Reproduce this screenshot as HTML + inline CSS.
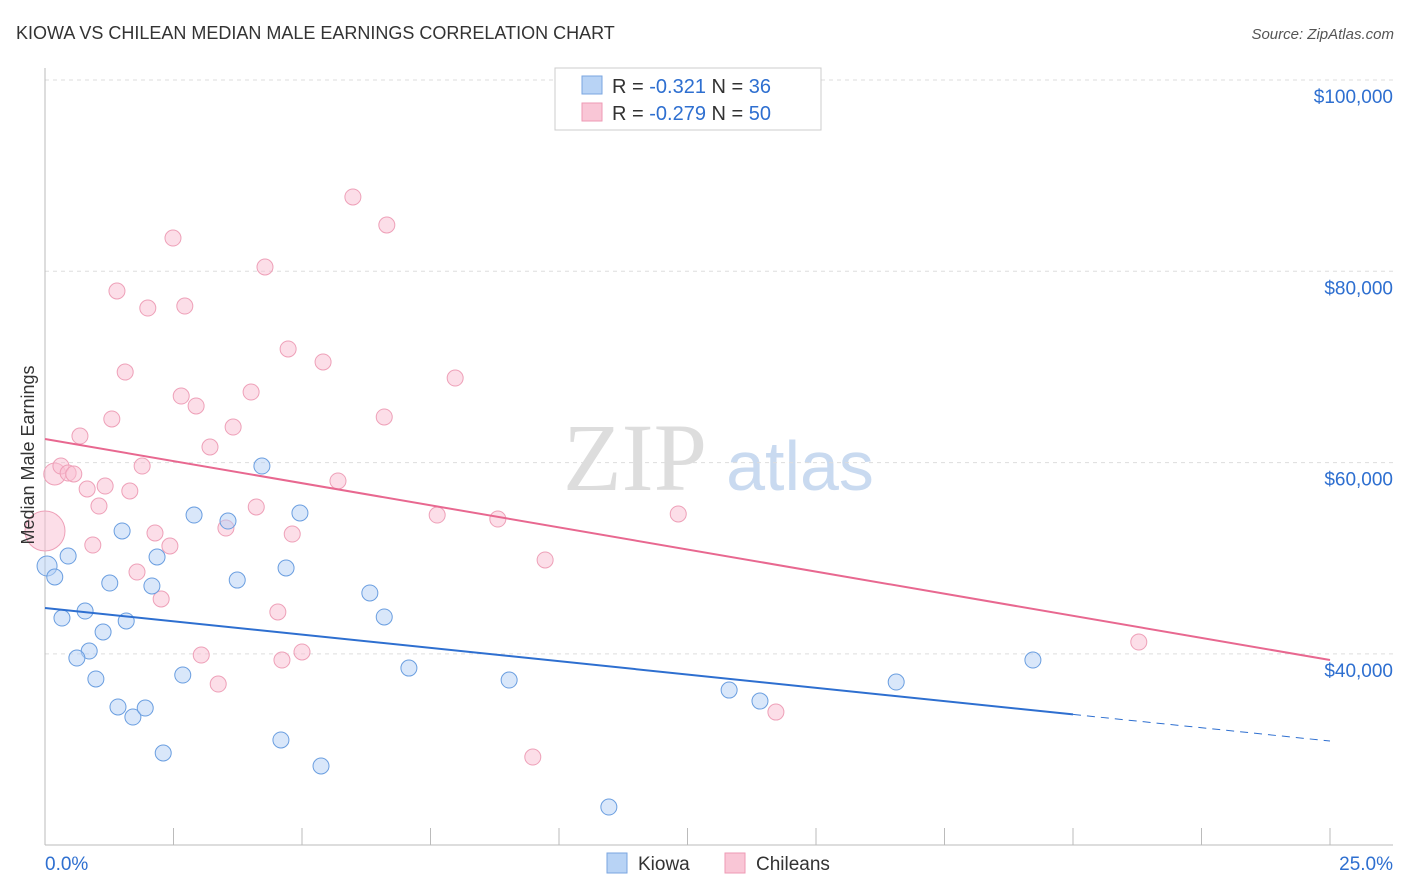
<!DOCTYPE html>
<html><head><meta charset="utf-8"><style>
body{margin:0;background:#fff;font-family:"Liberation Sans",sans-serif;}
svg{display:block}
</style></head><body>
<svg id="chart" width="1406" height="892" xmlns="http://www.w3.org/2000/svg">
<text x="16" y="39" font-size="18" fill="#333">KIOWA VS CHILEAN MEDIAN MALE EARNINGS CORRELATION CHART</text>
<text x="1394" y="39" font-size="15" fill="#555" font-style="italic" text-anchor="end">Source: ZipAtlas.com</text>
<g>
<text x="635" y="490" font-size="96" fill="#ddd" font-family="Liberation Serif,serif" text-anchor="middle">ZIP</text>
<text x="800" y="490" font-size="70" fill="#c9daf0" text-anchor="middle">atlas</text>
</g>
<g id="grid"></g><g id="axes"></g><g id="marks"></g>
<g>
<rect x="555" y="68" width="266" height="62" fill="#fff" stroke="#ccc"/>
<rect x="582" y="76" width="20" height="18" fill="#b8d3f5" stroke="#7aa6e0"/>
<rect x="582" y="103" width="20" height="18" fill="#f9c6d6" stroke="#ee9ab4"/>
<text x="612" y="93" font-size="20" fill="#333">R = <tspan fill="#2e6fd0">-0.321</tspan>   N = <tspan fill="#2e6fd0">36</tspan></text>
<text x="612" y="120" font-size="20" fill="#333">R = <tspan fill="#2e6fd0">-0.279</tspan>   N = <tspan fill="#2e6fd0">50</tspan></text>
</g>
<g>
<rect x="607" y="853" width="20" height="20" fill="#b8d3f5" stroke="#7aa6e0"/>
<text x="638" y="870" font-size="19" fill="#333">Kiowa</text>
<rect x="725" y="853" width="20" height="20" fill="#f9c6d6" stroke="#ee9ab4"/>
<text x="756" y="870" font-size="19" fill="#333">Chileans</text>
</g>
<text transform="translate(34,455) rotate(-90)" font-size="18" fill="#333" text-anchor="middle">Median Male Earnings</text>
</svg>
<script>
const yTicks=[40000,60000,80000,100000];
const yTickLabels=["$40,000","$60,000","$80,000","$100,000"];
const xTicks=[0,2.5,5,7.5,10,12.5,15,17.5,20,22.5,25];
const kiowaX=[0.04,0.19,0.45,0.33,0.78,0.86,0.62,1.13,0.99,1.26,1.50,1.58,1.42,1.71,1.95,2.08,2.18,2.30,2.68,2.90,3.56,3.74,4.22,4.69,4.59,4.96,5.37,6.32,6.60,7.08,9.03,10.97,13.31,13.91,16.56,19.22];
const kiowaY=[49190,48040,50230,43750,44480,40300,39570,42290,37380,47410,52850,43440,34450,33400,34340,47100,50130,29640,37790,54520,53890,47720,59640,48980,31000,54730,28280,46370,43860,38520,37270,23990,36220,35070,37060,39360];
const chileX=[0.0,0.19,0.31,0.45,0.56,0.68,0.82,0.93,1.05,1.17,1.30,1.40,1.56,1.65,1.79,1.89,2.00,2.14,2.26,2.43,2.49,2.65,2.72,2.94,3.04,3.21,3.37,3.52,3.66,4.01,4.11,4.28,4.53,4.61,4.73,4.81,5.00,5.41,5.70,5.99,6.60,6.65,7.63,7.98,8.81,9.49,9.73,12.32,14.22,21.28];
const chileY=[52850,58810,59640,58910,58810,62780,57240,51380,55460,57550,64560,77940,69470,57030,48560,59640,76160,52640,45740,51280,83480,66960,76370,65920,39880,61630,36850,53160,63720,67380,55360,80450,44380,39360,71880,52530,40200,70520,58080,87770,64770,84840,54520,68840,54100,29220,49820,54630,33920,41240];
const chileR=[20,11];
const kiowaTrend=[44800,30890];
const chileTrend=[62470,39360];
const NS="http://www.w3.org/2000/svg";
const X=v=>45+(v/25)*1285;
const Y=v=>80+(100000-v)/20000*191.3;
function mk(tag,attrs,parent){const e=document.createElementNS(NS,tag);for(const k in attrs)e.setAttribute(k,attrs[k]);parent.appendChild(e);return e;}
const grid=document.getElementById('grid'),axes=document.getElementById('axes'),marks=document.getElementById('marks');
yTicks.concat([]).forEach((t,i)=>{
 const l=mk('line',{x1:45,x2:1393,y1:Y(t),y2:Y(t),stroke:'#ddd','stroke-dasharray':'4,4'},grid);
 
 
 const tx=mk('text',{x:1393,y:Y(t)+23,'font-size':19,fill:'#2e6fd0','text-anchor':'end'},axes);
 tx.textContent=yTickLabels[i];
 
 
});
const tl=mk('line',{x1:45,x2:1393,y1:80,y2:80,stroke:'#ddd','stroke-dasharray':'4,4'},grid);


const xa=mk('line',{x1:45,x2:1393,y1:845,y2:845,stroke:'#bbb'},axes);


const ya=mk('line',{x1:45,x2:45,y1:68,y2:845,stroke:'#bbb'},axes);


xTicks.forEach(t=>{
 const l=mk('line',{x1:X(t),x2:X(t),y1:828,y2:845,stroke:'#bbb'},axes);
 
 
});
const x0=mk('text',{x:45,y:870,'font-size':19,fill:'#2e6fd0'},axes);x0.textContent='0.0%';


const x1=mk('text',{x:1393,y:870,'font-size':19,fill:'#2e6fd0','text-anchor':'end'},axes);x1.textContent='25.0%';


chileX.forEach((v,i)=>{
 const c=mk('circle',{cx:X(v),cy:Y(chileY[i]),r:chileR[i]||8,fill:'rgba(249,190,210,0.5)',stroke:'#eea0b8','stroke-width':1},marks);
 
 
});
kiowaX.forEach((v,i)=>{
 const c=mk('circle',{cx:X(v),cy:Y(kiowaY[i]),r:i==0?10:8,fill:'rgba(180,208,245,0.5)',stroke:'#6a9ee0','stroke-width':1},marks);
 
 
});
const kAt=p=>kiowaTrend[0]+(kiowaTrend[1]-kiowaTrend[0])*p/25;
const kl=mk('line',{x1:X(0),y1:Y(kAt(0)),x2:X(20),y2:Y(kAt(20)),stroke:'#2e6fd0','stroke-width':2},marks);


const kd=mk('line',{x1:X(20),y1:Y(kAt(20)),x2:X(25),y2:Y(kAt(25)),stroke:'#2e6fd0','stroke-width':1,'stroke-dasharray':'8,6'},marks);


const cl=mk('line',{x1:X(0),y1:Y(chileTrend[0]),x2:X(25),y2:Y(chileTrend[1]),stroke:'#e86890','stroke-width':2},marks);


</script>
</body></html>
